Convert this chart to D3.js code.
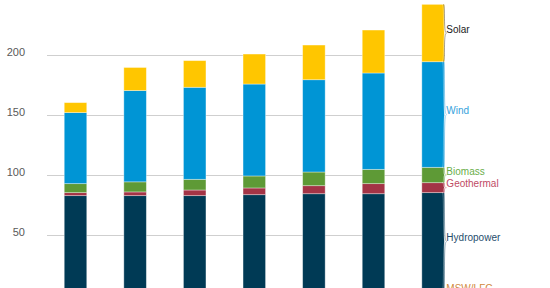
<!DOCTYPE html>
<html>
<head>
<meta charset="utf-8">
<script src="https://cdn.jsdelivr.net/npm/d3@7"></script>
<style>
  html, body { margin: 0; padding: 0; background: #fff; }
  svg { display: block; font-family: "Liberation Sans", Arial, sans-serif; }
</style>
</head>
<body>
<svg id="chart" width="550" height="288"></svg>
<script>
// Data (GW), stacked bottom to top
const categories = ["2017", "2018", "2019", "2020", "2021", "2022", "2023"];
const seriesNames = ["MSW/LFG", "Hydropower", "Geothermal", "Biomass", "Wind", "Solar"];
const mswLfg     = [4, 4, 4, 4, 4, 4, 4];
const hydropower = [78.8, 78.8, 78.8, 79.6, 80.4, 80.4, 81.3];
const geothermal = [2.5, 3.1, 4.7, 5.6, 6.7, 8.4, 8.3];
const biomass    = [7.5, 8.4, 8.9, 10.0, 11.4, 11.9, 12.8];
const wind       = [59.2, 76.1, 76.7, 76.6, 76.9, 80.3, 88.0];
const solar      = [8.3, 19.2, 22.2, 25.0, 28.9, 35.8, 47.8];
const yTicks = [50, 100, 150, 200];

const fillColors  = ["#c8843a", "#003a55", "#a33446", "#5e9a36", "#0095d5", "#ffc600"];
const labelColors = ["#d0883c", "#1f4d6c", "#c04a64", "#6aae4a", "#35a2dc", "#222222"];

const seriesValues = [mswLfg, hydropower, geothermal, biomass, wind, solar];
const rows = categories.map((c, i) => {
  const r = { cat: c };
  seriesNames.forEach((s, j) => r[s] = seriesValues[j][i]);
  return r;
});

const svg = d3.select("#chart");
const y = d3.scaleLinear().domain([0, 200]).range([295, 55]);
const x = d3.scaleBand().domain(categories).range([45.7, 462.9])
  .paddingInner(0.622).paddingOuter(0.311);

// gridlines
const gridX0 = 47, gridX1 = 445;
svg.append("g").selectAll("line").data(yTicks).join("line")
  .attr("x1", gridX0).attr("x2", gridX1)
  .attr("y1", d => y(d) + 0.5).attr("y2", d => y(d) + 0.5)
  .attr("stroke", "#cfcfcf").attr("stroke-width", 1);

// y axis labels
svg.append("g").selectAll("text").data(yTicks).join("text")
  .attr("x", 25).attr("y", d => y(d) - 1.5)
  .attr("text-anchor", "end").attr("dominant-baseline", "middle")
  .attr("font-size", 11).attr("fill", "#595959")
  .text(d => d);

// stacks
const stack = d3.stack().keys(seriesNames);
const stacked = stack(rows);

svg.append("g").selectAll("g").data(stacked).join("g")
  .attr("fill", (d, i) => fillColors[i])
  .selectAll("rect").data(d => d).join("rect")
  .attr("x", d => x(d.data.cat))
  .attr("width", x.bandwidth())
  .attr("y", d => y(d[1]))
  .attr("height", d => y(d[0]) - y(d[1]))
  .attr("stroke", "rgba(255,255,255,0.45)")
  .attr("stroke-width", 0.8);

// right-side labels with brace connectors (last bar)
const lastIdx = categories.length - 1;
const xr = x(categories[lastIdx]) + x.bandwidth();
const lab = svg.append("g");
stacked.forEach((s, i) => {
  const d = s[lastIdx];
  const yt = y(d[1]), yb = y(d[0]);
  const ym = (yt + yb) / 2;
  const p = d3.path();
  p.moveTo(xr - 1, yt);
  p.bezierCurveTo(xr + 1, yt, xr - 1, ym, xr + 2, ym);
  p.bezierCurveTo(xr - 1, ym, xr + 1, yb, xr - 1, yb);
  lab.append("path").attr("d", p.toString())
    .attr("fill", "none").attr("stroke", labelColors[i])
    .attr("stroke-opacity", 0.5).attr("stroke-width", 0.8);
  lab.append("path").attr("d", p.toString())
    .attr("fill", "none").attr("stroke", "#ffffff")
    .attr("stroke-opacity", 0.5).attr("stroke-width", 0.6)
    .attr("transform", "translate(-1,0)");
  lab.append("text")
    .attr("x", xr + 2).attr("y", ym - 3)
    .attr("dominant-baseline", "middle")
    .attr("font-size", 10).attr("fill", labelColors[i])
    .text(seriesNames[i]);
});
</script>
</body>
</html>
